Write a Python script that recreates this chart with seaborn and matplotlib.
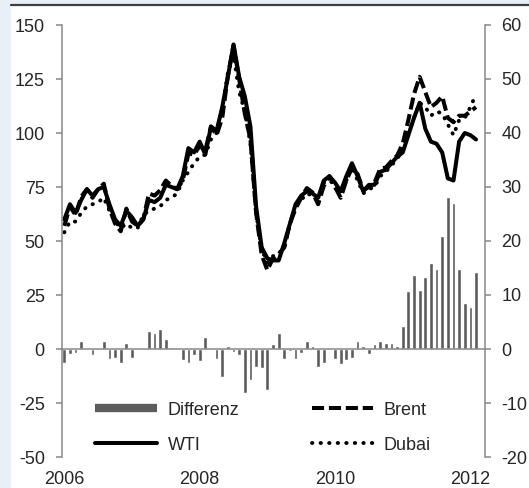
import numpy as np
import pandas as pd
import matplotlib
matplotlib.use("Agg")
import matplotlib.pyplot as plt
from matplotlib.lines import Line2D
from matplotlib.patches import Rectangle
import seaborn as sns

# monthly values Jan 2006 .. Feb 2012
wti = [60, 67, 63, 69, 74, 71, 74, 75, 67, 60, 57, 64,
       61, 57, 60, 69, 68, 70, 76, 75, 74, 80, 93, 91,
       96, 90, 103, 101, 112, 126, 141, 126, 117, 103, 66, 47,
       42, 41, 41, 49, 58, 67, 71, 73, 72, 70, 78, 80,
       77, 73, 80, 86, 80, 73, 76, 76, 82, 83, 86, 89,
       91, 99, 107, 114, 102, 96, 95, 91, 79, 78, 96, 100,
       99, 97]
brent = [57, 66, 62, 70.5, 74, 70, 74, 76.5, 65, 58, 54.5, 65,
         59, 57, 60, 72, 71, 73.5, 78, 75.5, 74, 78, 90.5, 90,
         94, 92, 103, 99, 107, 126.5, 140.5, 125, 109, 97, 63, 43.5,
         36.5, 42, 44, 47, 58, 65, 70, 74.5, 72.5, 67, 75.5, 80,
         75, 70, 78, 84, 81, 73.5, 75, 77, 83.5, 84, 87, 89.5,
         95, 106, 118, 126, 119, 112, 114, 117, 107, 105, 108, 108,
         110, 112]
dubai = [54, 59, 59, 63, 66, 67, 68, 70, 64, 59, 56, 58,
         56, 56, 62, 64, 65, 66, 69, 70, 72, 78, 82, 86,
         89, 90, 97, 100, 111, 128, 136, 119, 110, 95, 63, 46,
         40, 43, 44, 47, 58, 66, 69, 72, 71, 70, 77, 78,
         76, 73, 78, 84, 78, 72, 74, 75, 80, 82, 85, 88,
         92, 100, 107, 114, 112, 108, 110, 109, 104, 99, 106, 107,
         112, 118]
# Brent minus WTI, right axis
diff = [-2.65, -0.9, -0.8, 1.5, -0.1, -1.2, 0.1, 1.4, -1.9, -1.7, -2.5, 1.2,
        -1.7, -0.2, -0.2, 3.4, 3.0, 3.7, 1.8, 0.4, 0.1, -2.0, -2.65, -1.2,
        -2.2, 2.3, 0.1, -1.9, -5.1, 0.55, -0.5, -1.1, -8.2, -5.7, -3.3, -3.6,
        -7.5, 0.9, 3.0, -1.8, -0.3, -1.8, -0.8, 1.5, 0.5, -3.4, -2.5, -0.1,
        -1.85, -2.8, -2.0, -1.7, 1.4, 0.5, -0.9, 0.9, 1.5, 1.2, 1.2, 0.5,
        4.2, 10.8, 13.7, 11.0, 13.4, 16.0, 14.8, 21.0, 28.2, 27.1, 14.8, 8.5,
        7.8, 14.2]
year_labels = ["2006", "2008", "2010", "2012"]

month = np.arange(len(wti))
df = pd.DataFrame({"month": month, "WTI": wti, "Brent": brent,
                   "Dubai": dubai, "Differenz": diff})

sns.set_theme(style="white")
plt.rcParams["font.family"] = ["Liberation Sans", "DejaVu Sans"]
plt.rcParams["axes.unicode_minus"] = False

grey = "#878787"
bar_col = "#5c5c5c"
dots = (0, (0.1, 2.1))
dashes = (0, (3, 1.2))

fig = plt.figure(figsize=(5.29, 4.88), dpi=100, facecolor="#e9eff7")
fig.patches.append(Rectangle((11 / 529, 0), 1, 1 - 6 / 488, transform=fig.transFigure,
                             facecolor="white", edgecolor="none", zorder=-10))
fig.lines.append(Line2D([11 / 529, 1], [1 - 5 / 488] * 2, transform=fig.transFigure,
                        color="#3e3e3e", lw=1.6))

ax = fig.add_axes([61.5 / 529, 1 - 457 / 488, 423 / 529, 432 / 488])
ax2 = ax.twinx()

# bars on the right axis
sns.barplot(data=df, x="month", y="Differenz", ax=ax2, native_scale=True,
            color=bar_col, saturation=1, width=0.66, errorbar=None)

# price lines on the left axis
sns.lineplot(data=df, x="month", y="WTI", ax=ax, color="black", lw=2.9,
             solid_joinstyle="round")
sns.lineplot(data=df, x="month", y="Brent", ax=ax, color="black", lw=2.9,
             linestyle=dashes)
sns.lineplot(data=df, x="month", y="Dubai", ax=ax, color="black", lw=2.8,
             linestyle=dots, dash_capstyle="round")

ax.set_zorder(ax2.get_zorder() + 1)
ax.patch.set_visible(False)
ax2.patch.set_visible(False)

ax.set_xlim(-0.5, 74.5)
ax.set_ylim(-50, 150)
ax.set_yticks(np.arange(-50, 151, 25))
ax2.set_ylim(-20, 60)
ax2.set_yticks(np.arange(-20, 61, 10))

ax.set_xticks(np.arange(0, 73, 24))
ax.set_xticklabels(year_labels)
ax.set_xticks(np.arange(11.5, 74, 12), minor=True)

for a in (ax, ax2):
    a.set_xlabel("")
    a.set_ylabel("")
    a.spines["top"].set_visible(False)
ax.spines["right"].set_visible(False)
ax.spines["bottom"].set_visible(False)
ax.spines["left"].set_color(grey)
ax.spines["left"].set_linewidth(1.1)
ax2.spines["left"].set_visible(False)
ax2.spines["right"].set_color(grey)
ax2.spines["right"].set_linewidth(1.1)
ax2.spines["bottom"].set_position(("data", 0))
ax2.spines["bottom"].set_color(grey)
ax2.spines["bottom"].set_linewidth(1.1)

ax.tick_params(axis="y", which="major", direction="out", length=4, width=1.1,
               color=grey, labelsize=13, pad=8, left=True)
ax2.tick_params(axis="y", which="major", direction="out", length=4, width=1.1,
                color=grey, labelsize=13, pad=8, right=True)
ax.tick_params(axis="x", which="major", length=0, labelsize=13, pad=10, bottom=True)
ax.tick_params(axis="x", which="minor", length=0, bottom=False)
ax2.tick_params(axis="x", which="major", length=0, labelbottom=False, bottom=False)
ax2.tick_params(axis="x", which="minor", direction="out", length=4, width=1.1,
                color=grey, bottom=True)

handles = [Line2D([], [], color=bar_col, lw=6, solid_capstyle="butt"),
           Line2D([], [], color="black", lw=2.9),
           Line2D([], [], color="black", lw=2.9, linestyle=dashes),
           Line2D([], [], color="black", lw=2.8, linestyle=dots, dash_capstyle="round")]
labels = ["Differenz", "WTI", "Brent", "Dubai"]
ax.legend(handles, labels, ncol=2, loc="upper left", bbox_to_anchor=(0.08, 0.128),
          frameon=False, fontsize=13, handlelength=3.4, handletextpad=0.6,
          columnspacing=4.0, labelspacing=1.0, borderpad=0, borderaxespad=0)

fig.savefig("out.png", dpi=100, facecolor=fig.get_facecolor())
